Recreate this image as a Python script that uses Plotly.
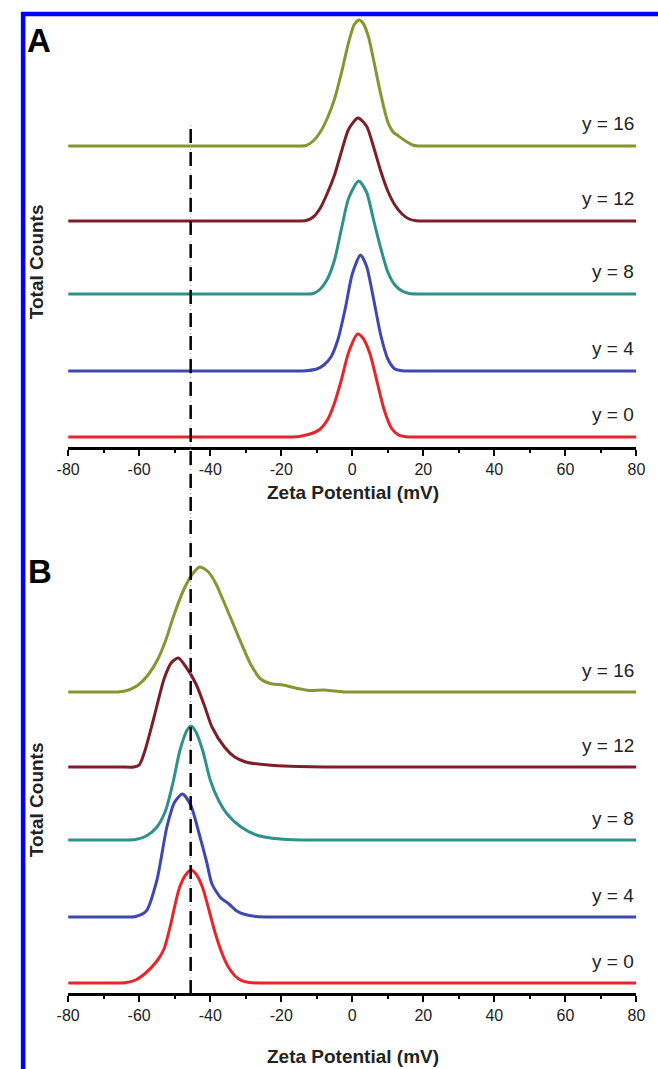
import plotly.graph_objects as go

W, H = 658, 1069

# ---------------- data ----------------
series_names = ["y = 0", "y = 4", "y = 8", "y = 12", "y = 16"]

# Panel A (zeta potential in mV, counts in arbitrary units)
a_y0_x = [-80, -60, -40, -25, -18, -15, -13, -11, -9, -7, -5, -3, -1, 1.5, 3, 5, 7, 9, 11, 13, 15, 18, 25, 40, 60, 80]
a_y0_c = [0, 0, 0, 0, 0, 0.5, 2, 4, 8, 17, 34, 58, 85, 103, 99, 83, 55, 27, 9, 2, 0.3, 0, 0, 0, 0, 0]

a_y4_x = [-80, -60, -40, -25, -16, -13, -10, -8, -6, -4, -2, 0, 2.3, 4, 6, 8, 10, 12, 14, 17, 25, 40, 60, 80]
a_y4_c = [0, 0, 0, 0, 0, 0.3, 2, 6, 14, 32, 62, 97, 116, 105, 72, 36, 12, 2, 0.3, 0, 0, 0, 0, 0]

a_y8_x = [-80, -60, -40, -25, -14, -11, -9, -7, -5, -3, -1, 1.8, 4, 6, 8, 10, 12, 14, 16, 19, 25, 40, 60, 80]
a_y8_c = [0, 0, 0, 0, 0, 0.5, 5, 15, 34, 66, 96, 113, 102, 74, 46, 22, 9, 3, 0.5, 0, 0, 0, 0, 0]

a_y12_x = [-80, -60, -40, -25, -16, -13, -11, -9, -7, -5, -3, -1, 1.6, 4, 6, 8, 10, 12, 14, 16, 18, 21, 30, 45, 60, 80]
a_y12_c = [0, 0, 0, 0, 0, 0.5, 4, 13, 28, 46, 70, 92, 103, 95, 74, 50, 30, 16, 7, 2, 0.3, 0, 0, 0, 0, 0]

a_y16_x = [-80, -60, -40, -25, -16, -13, -11, -9, -7, -5, -3, -1, 0.5, 1.9, 3, 4.5, 6, 8, 10, 11.5, 13, 15, 17, 18.5,
           21, 30, 45, 60, 80]
a_y16_c = [0, 0, 0, 0, 0, 0.5, 5, 14, 28, 47, 74, 104, 121, 126, 123, 110, 86, 52, 24, 14, 10, 5, 1, 0,
           0, 0, 0, 0, 0]

# Panel B
b_y0_x = [-80, -75, -70, -67, -64, -61, -58.5, -55, -53, -51.3, -48.6, -46.5, -45.4, -44, -42.2, -38.6, -36.5,
          -34.9, -33, -31.3, -29, -26, -15, 0, 20, 40, 60, 80]
b_y0_c = [0, 0, 0, 0, 0.3, 3, 9, 22, 34, 56, 96, 110, 113, 109, 96, 50, 28,
          16, 7, 2.7, 0.5, 0, 0, 0, 0, 0, 0, 0]

b_y4_x = [-80, -75, -70, -64, -61, -58, -55, -52.2, -50, -47.8, -45.5, -43.1, -41, -39.5, -37, -34.9, -32.5,
          -30.4, -27, -22, -10, 10, 30, 50, 80]
b_y4_c = [0, 0, 0, 0, 0.5, 6, 37, 90, 115, 123, 112, 83, 55, 33, 19, 13.5, 6,
          2.7, 0.5, 0, 0, 0, 0, 0, 0]

b_y8_x = [-80, -75, -70, -64, -61, -58, -55, -52.5, -50.5, -48.5, -46.5, -45.4, -44, -42, -40, -37.7, -35,
          -31.3, -27, -23, -18, -12, 0, 20, 40, 60, 80]
b_y8_c = [0, 0, 0, 0, 0.5, 4, 13, 30, 57, 90, 110, 114, 108, 88, 60, 40, 25,
          13, 5, 2, 0.5, 0, 0, 0, 0, 0, 0]

b_y12_x = [-80, -75, -70, -65, -61.5, -60, -58.5, -55.8, -53, -51, -49, -47, -44, -41.5, -39.5, -36, -33.1,
           -30, -27.7, -22, -15, -8, 0, 20, 40, 60, 80]
b_y12_c = [0, 0, 0, 0, 0, 2, 15, 50, 88, 104, 109, 101, 83, 60, 40, 20, 10,
           5, 3.5, 1.5, 0.5, 0, 0, 0, 0, 0, 0]

b_y16_x = [-80, -75, -70, -66, -63, -60.4, -57.5, -54.9, -52.5, -50.4, -47.5, -45, -42.9, -40.5, -38.5, -36.5,
           -34, -31.3, -28.5, -25.8, -22.5, -19.5, -16, -12, -8, -5, -2, 5, 20, 40, 60, 80]
b_y16_c = [0, 0, 0, 0, 2, 6.7, 17, 31.7, 52, 75, 102, 118, 125, 120, 109, 93,
           72, 49, 27, 13, 8, 7, 4, 1.5, 2, 1, 0, 0, 0, 0, 0, 0]

panel_a = [(a_y0_x, a_y0_c), (a_y4_x, a_y4_c), (a_y8_x, a_y8_c), (a_y12_x, a_y12_c), (a_y16_x, a_y16_c)]
panel_b = [(b_y0_x, b_y0_c), (b_y4_x, b_y4_c), (b_y8_x, b_y8_c), (b_y12_x, b_y12_c), (b_y16_x, b_y16_c)]

x_ticks = [-80, -60, -40, -20, 0, 20, 40, 60, 80]
x_tick_labels = ["-80", "-60", "-40", "-20", "0", "20", "40", "60", "80"]
reference_line_mv = -45.5

# ---------------- presentation ----------------
colors = ["#e5262b", "#3f48b0", "#2f918a", "#7d1f28", "#879631"]
baseline_offsets = [10, 76, 153, 226, 301]   # vertical stacking of the traces


def px_x(p):
    return p / W


def px_y(p):
    return 1 - p / H


fig = go.Figure()

for panel, (xa, ya) in ((panel_a, ("x", "y")), (panel_b, ("x2", "y2"))):
    for i, (xs, cs) in enumerate(panel):
        fig.add_trace(go.Scatter(
            x=xs, y=[c + baseline_offsets[i] for c in cs],
            mode="lines", xaxis=xa, yaxis=ya,
            line=dict(color=colors[i], width=3, shape="spline", smoothing=0.7),
            showlegend=False, hoverinfo="skip"))

font_main = "Liberation Sans, Arial, sans-serif"

axis_common = dict(
    range=[-80, 80], tickvals=x_ticks, ticktext=x_tick_labels,
    ticks="outside", ticklen=6, tickwidth=2,
    tickcolor="black", showline=True, linecolor="black", linewidth=2.5,
    showgrid=False, zeroline=False,
    tickfont=dict(family=font_main, size=16, color="#222"),
    minor=dict(dtick=10, tick0=0, ticks="outside", ticklen=3, tickwidth=2, tickcolor="black"),
)

fig.update_layout(
    width=W, height=H,
    margin=dict(l=0, r=0, t=0, b=0),
    paper_bgcolor="white", plot_bgcolor="white",
    xaxis=dict(domain=[px_x(58), px_x(645)], anchor="y", **axis_common),
    yaxis=dict(domain=[px_y(447), px_y(12)], range=[0, 435], visible=False, anchor="x"),
    xaxis2=dict(domain=[px_x(58), px_x(645)], anchor="y2", **axis_common),
    yaxis2=dict(domain=[px_y(993), px_y(545)], range=[0, 448], visible=False, anchor="x2"),
)

ann = []
# panel letters
ann.append(dict(text="<b>A</b>", x=px_x(13), y=px_y(40), xref="paper", yref="paper",
                xanchor="left", yanchor="middle", showarrow=False,
                font=dict(family=font_main, size=33, color="black")))
ann.append(dict(text="<b>B</b>", x=px_x(14), y=px_y(571), xref="paper", yref="paper",
                xanchor="left", yanchor="middle", showarrow=False,
                font=dict(family=font_main, size=33, color="black")))
# y titles
for yc in (262, 800):
    ann.append(dict(text="<b>Total Counts</b>", x=px_x(25), y=px_y(yc), xref="paper", yref="paper",
                    xanchor="center", yanchor="middle", textangle=-90, showarrow=False,
                    font=dict(family=font_main, size=19, color="#222")))
# x titles
for yc in (492, 1056):
    ann.append(dict(text="<b>Zeta Potential (mV)</b>", x=px_x(352), y=px_y(yc), xref="paper", yref="paper",
                    xanchor="center", yanchor="middle", showarrow=False,
                    font=dict(family=font_main, size=19, color="#222")))
# series labels
for xa, ya in (("x", "y"), ("x2", "y2")):
    for i, name in enumerate(series_names):
        ann.append(dict(text=name, x=80, y=baseline_offsets[i] + 22, xref=xa, yref=ya,
                        xanchor="right", yanchor="middle", showarrow=False,
                        font=dict(family=font_main, size=19, color="#222")))
fig.update_layout(annotations=ann)

shapes = [
    # gray dotted guide and black dashed reference line through both panels
    dict(type="line", xref="x", yref="paper", x0=reference_line_mv, x1=reference_line_mv,
         y0=px_y(994), y1=px_y(125), line=dict(color="#9a9a9a", width=1, dash="1px,3px")),
    dict(type="line", xref="x", yref="paper", x0=reference_line_mv, x1=reference_line_mv,
         y0=px_y(994), y1=px_y(125), line=dict(color="black", width=2.5, dash="14px,9px")),
    # blue frame
    dict(type="rect", xref="paper", yref="paper", x0=px_x(11.5), x1=1.05, y0=-0.05, y1=px_y(14),
         line=dict(color="#0000ff", width=4.5), fillcolor="rgba(0,0,0,0)"),
]
fig.update_layout(shapes=shapes)

fig.write_html(
    "out.html",
    config={"displayModeBar": False},
    post_script="document.body.style.margin='0';document.body.style.padding='0';"
                "document.documentElement.style.overflow='hidden';document.body.style.overflow='hidden';",
)
